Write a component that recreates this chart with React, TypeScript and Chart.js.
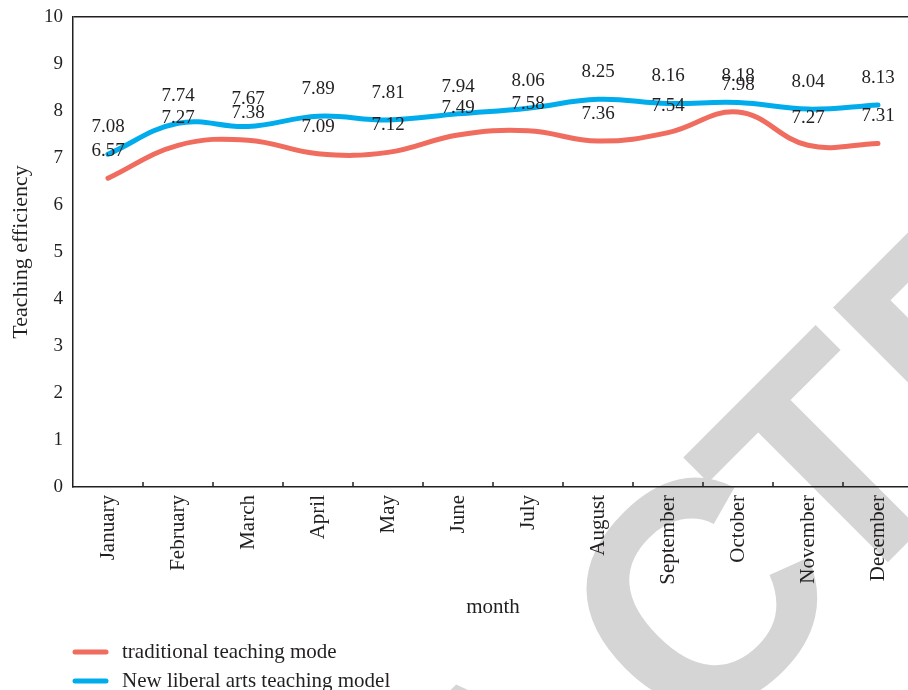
import React, { useEffect, useRef } from "react";
import { Chart, registerables } from "chart.js";

Chart.register(...registerables);

const months = ["January", "February", "March", "April", "May", "June", "July", "August", "September", "October", "November", "December"];
const traditional = [6.57, 7.27, 7.38, 7.09, 7.12, 7.49, 7.58, 7.36, 7.54, 7.98, 7.27, 7.31];
const newLiberal = [7.08, 7.74, 7.67, 7.89, 7.81, 7.94, 8.06, 8.25, 8.16, 8.18, 8.04, 8.13];
const seriesNames = ["traditional teaching mode", "New liberal arts teaching model"];
const yTicks = [0, 1, 2, 3, 4, 5, 6, 7, 8, 9, 10];

const INK = "#231f20";
const RED = "rgb(240,108,94)";
const BLUE = "rgb(0,172,236)";
const SERIF = "'Liberation Serif', 'Times New Roman', serif";

const watermarkPlugin = {
  id: "watermark",
  beforeDraw(chart: any) {
    const ctx = chart.ctx;
    ctx.save();
    ctx.font = "bold 318px 'Liberation Sans', Arial, sans-serif";
    ctx.fillStyle = "#d5d5d5";
    ctx.textBaseline = "alphabetic";
    ctx.textAlign = "left";
    ctx.translate(673, 777);
    ctx.rotate(-Math.PI / 4);
    const before = ctx.measureText("RETRA").width;
    const cW = ctx.measureText("C").width;
    ctx.fillText("RETRA", -before, 0);
    ctx.fillText("C", 30, 0);
    ctx.fillText("TED", cW, 0);
    ctx.restore();
  },
};

const decorPlugin = {
  id: "decor",
  afterDatasetsDraw(chart: any) {
    const ctx = chart.ctx;
    ctx.save();
    ctx.font = `19px ${SERIF}`;
    ctx.fillStyle = INK;
    ctx.textAlign = "center";
    ctx.textBaseline = "middle";
    chart.data.datasets.forEach((ds: any, di: number) => {
      const meta = chart.getDatasetMeta(di);
      meta.data.forEach((pt: any, i: number) => {
        ctx.fillText(Number(ds.data[i]).toFixed(2), pt.x, pt.y - 27);
      });
    });
    ctx.restore();
  },
  afterDraw(chart: any) {
    const ctx = chart.ctx;
    const xs = chart.scales.x;
    ctx.save();
    ctx.strokeStyle = INK;
    ctx.lineWidth = 1.5;
    for (let i = 1; i <= months.length; i++) {
      const px = xs.getPixelForValue(i - 0.5);
      ctx.beginPath();
      ctx.moveTo(px, xs.top);
      ctx.lineTo(px, xs.top - 5);
      ctx.stroke();
    }
    const rows = [652, 681];
    chart.data.datasets.forEach((ds: any, di: number) => {
      const y = rows[di];
      ctx.strokeStyle = ds.borderColor;
      ctx.lineWidth = 5;
      ctx.lineCap = "round";
      ctx.beginPath();
      ctx.moveTo(75, y);
      ctx.lineTo(106, y);
      ctx.stroke();
      ctx.fillStyle = INK;
      ctx.font = `21px ${SERIF}`;
      ctx.textAlign = "left";
      ctx.textBaseline = "middle";
      ctx.fillText(ds.label, 122, y);
    });
    ctx.restore();
  },
};

export default function App() {
  const canvasRef = useRef<HTMLCanvasElement | null>(null);

  useEffect(() => {
    document.body.style.margin = "0";
    const canvas = canvasRef.current;
    if (!canvas) return;
    const chart = new Chart(canvas, {
      type: "line",
      data: {
        labels: months,
        datasets: [
          {
            label: seriesNames[0],
            data: traditional,
            borderColor: RED,
            backgroundColor: RED,
            borderWidth: 5,
            pointRadius: 0,
            tension: 0.4,
            borderCapStyle: "round",
          },
          {
            label: seriesNames[1],
            data: newLiberal,
            borderColor: BLUE,
            backgroundColor: BLUE,
            borderWidth: 5,
            pointRadius: 0,
            tension: 0.4,
            borderCapStyle: "round",
          },
        ],
      },
      options: {
        responsive: false,
        animation: false,
        devicePixelRatio: 1,
        layout: { padding: { top: 17, left: 0, right: 0, bottom: 65 } },
        plugins: {
          legend: { display: false },
          tooltip: { enabled: false },
        },
        scales: {
          x: {
            type: "category",
            offset: true,
            grid: { display: false, drawTicks: false },
            border: { display: true, color: INK, width: 1.5 },
            ticks: {
              autoSkip: false,
              minRotation: 90,
              maxRotation: 90,
              padding: 8,
              color: INK,
              font: { family: SERIF, size: 21 },
            },
            title: {
              display: true,
              text: "month",
              color: INK,
              font: { family: SERIF, size: 21 },
              padding: { top: 0, bottom: 5 },
            },
            afterFit: (s: any) => {
              s.height = 138;
            },
          },
          y: {
            min: 0,
            max: 10,
            afterBuildTicks: (s: any) => {
              s.ticks = yTicks.map((v) => ({ value: v }));
            },
            grid: {
              drawTicks: false,
              color: (c: any) => (c.tick && c.tick.value === 10 ? INK : "rgba(0,0,0,0)"),
              lineWidth: 1.5,
            },
            border: { display: true, color: INK, width: 1.5 },
            ticks: {
              padding: 10,
              color: INK,
              font: { family: SERIF, size: 19 },
            },
            title: {
              display: true,
              text: "Teaching efficiency",
              color: INK,
              font: { family: SERIF, size: 22 },
              padding: { top: 8, bottom: 0 },
            },
            afterFit: (s: any) => {
              s.width = 73;
              s.paddingTop = 0;
              s.paddingBottom = 0;
            },
          },
        },
      },
      plugins: [watermarkPlugin, decorPlugin],
    } as any);
    return () => chart.destroy();
  }, []);

  return (
    <div style={{ width: 908, height: 690, overflow: "hidden", background: "#fff" }}>
      <canvas ref={canvasRef} width={913} height={690} style={{ display: "block" }} />
    </div>
  );
}
